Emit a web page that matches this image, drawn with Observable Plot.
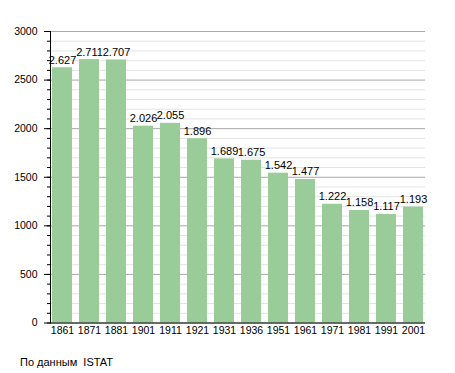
<!DOCTYPE html>
<html>
<head>
<meta charset="utf-8">
<script src="https://cdn.jsdelivr.net/npm/d3@7"></script>
<script src="https://cdn.jsdelivr.net/npm/@observablehq/plot@0.6"></script>
<style>
  html, body { margin: 0; padding: 0; background: #fff; }
  #chart svg { display: block; }
  #caption { font-family: "Liberation Sans", Arial, sans-serif; font-size: 11px; color: #000; margin: 16px 0 0 20px; white-space: pre; }
</style>
</head>
<body>
<div id="chart"></div>
<div id="caption">По данным  ISTAT</div>
<script>
const years = ["1861","1871","1881","1901","1911","1921","1931","1936","1951","1961","1971","1981","1991","2001"];
const population = [2627, 2711, 2707, 2026, 2055, 1896, 1689, 1675, 1542, 1477, 1222, 1158, 1117, 1193];
const majorTicks = [0, 500, 1000, 1500, 2000, 2500, 3000];
const minorTicks = d3.range(0, 3001, 100);

const data = years.map((y, i) => ({year: y, value: population[i]}));
const fmt = d3.formatLocale({decimal: ",", thousands: ".", grouping: [3], currency: ["", ""]}).format(",d");

const chart = Plot.plot({
  width: 455,
  height: 340,
  marginLeft: 50,
  marginRight: 30,
  marginTop: 31,
  marginBottom: 17.5,
  style: {fontFamily: "'Liberation Sans', Arial, sans-serif", fontSize: "10.5px", color: "#000", background: "#fff"},
  x: {domain: years, paddingInner: 0.25, paddingOuter: 0.02, label: null},
  y: {domain: [0, 3000], label: null},
  marks: [
    Plot.ruleY(minorTicks.filter(d => d % 500 !== 0), {stroke: "#e3e3e3", strokeWidth: 1}),
    Plot.ruleY(majorTicks, {stroke: "#a8a8a8", strokeWidth: 1}),
    Plot.barY(data, {x: "year", y: "value", fill: "#99cc99"}),
    Plot.text(data, {x: "year", y: "value", text: d => fmt(d.value), dy: -4, lineAnchor: "bottom", fill: "#000", fontSize: 11}),
    Plot.axisY(minorTicks, {tickSize: 3, tickFormat: () => "", stroke: "#000"}),
    Plot.axisY(majorTicks, {tickSize: 6, tickPadding: 7, stroke: "#000", tickFormat: d => String(d)}),
    Plot.axisX({tickSize: 0, tickPadding: 4}),
    Plot.ruleY([0], {stroke: "#000", strokeWidth: 1}),
    Plot.frame({anchor: "left", stroke: "#000"})
  ]
});
document.getElementById("chart").appendChild(chart);
</script>
</body>
</html>
